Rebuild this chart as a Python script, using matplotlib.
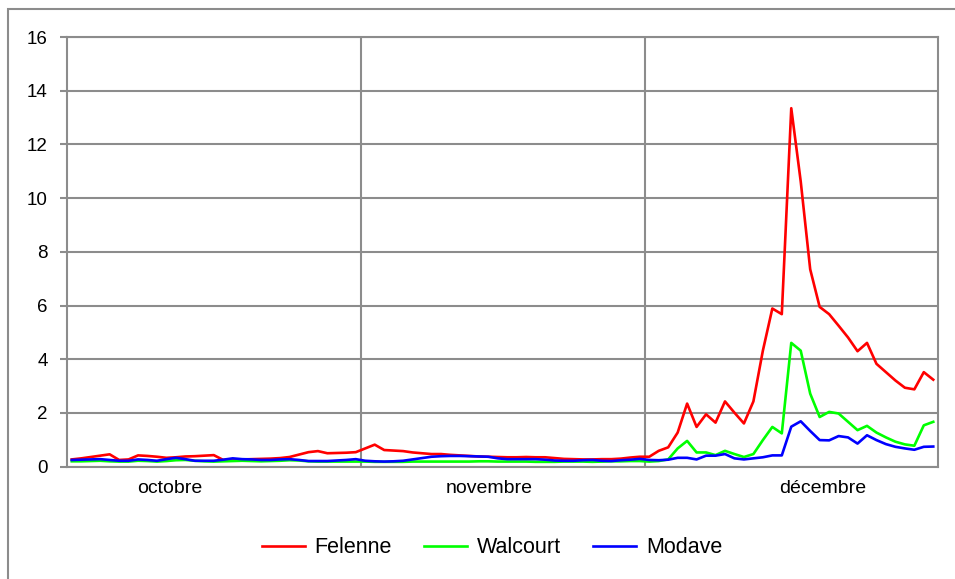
import numpy as np
import matplotlib
matplotlib.use('Agg')
import matplotlib.pyplot as plt
from matplotlib.patches import Rectangle

plt.rcParams['font.family'] = ['Liberation Sans', 'DejaVu Sans']

# daily values, 1 Oct -> 31 Dec
felenne = [0.27, 0.31, 0.36, 0.41, 0.46, 0.25, 0.27, 0.42, 0.40, 0.37, 0.33, 0.35, 0.38, 0.39, 0.41, 0.43,
           0.25, 0.27, 0.27, 0.28, 0.29, 0.30, 0.32, 0.36, 0.45, 0.54, 0.58, 0.50, 0.51, 0.52, 0.54,
           0.68, 0.82, 0.62, 0.60, 0.58, 0.53, 0.50, 0.47, 0.47, 0.44, 0.42, 0.40, 0.38, 0.37, 0.36,
           0.35, 0.35, 0.36, 0.35, 0.35, 0.32, 0.29, 0.28, 0.27, 0.27, 0.28, 0.28, 0.30, 0.34, 0.37,
           0.37, 0.59, 0.72, 1.27, 2.35, 1.48, 1.95, 1.64, 2.43, 2.01, 1.61, 2.43, 4.32, 5.89, 5.68,
           13.35, 10.62, 7.35, 5.95, 5.68, 5.25, 4.81, 4.30, 4.61, 3.83, 3.52, 3.21, 2.94, 2.88, 3.52, 3.24]
walcourt = [0.20, 0.20, 0.21, 0.22, 0.20, 0.19, 0.19, 0.22, 0.21, 0.19, 0.21, 0.24, 0.25, 0.22, 0.20, 0.19,
            0.20, 0.21, 0.22, 0.21, 0.20, 0.21, 0.22, 0.24, 0.23, 0.20, 0.19, 0.19, 0.19, 0.19, 0.19,
            0.19, 0.18, 0.18, 0.18, 0.18, 0.19, 0.19, 0.19, 0.19, 0.19, 0.19, 0.19, 0.20, 0.20, 0.19,
            0.19, 0.19, 0.19, 0.18, 0.18, 0.18, 0.19, 0.19, 0.19, 0.18, 0.19, 0.20, 0.20, 0.21, 0.21,
            0.19, 0.21, 0.27, 0.68, 0.96, 0.53, 0.53, 0.43, 0.59, 0.47, 0.36, 0.47, 0.99, 1.48, 1.24,
            4.61, 4.32, 2.72, 1.85, 2.04, 1.98, 1.67, 1.36, 1.52, 1.27, 1.09, 0.93, 0.83, 0.78, 1.54, 1.67]
modave = [0.25, 0.26, 0.27, 0.28, 0.25, 0.22, 0.22, 0.27, 0.25, 0.22, 0.28, 0.33, 0.28, 0.22, 0.22, 0.22,
          0.26, 0.31, 0.28, 0.27, 0.25, 0.25, 0.27, 0.28, 0.25, 0.21, 0.21, 0.21, 0.23, 0.25, 0.28,
          0.22, 0.20, 0.19, 0.20, 0.22, 0.27, 0.32, 0.37, 0.39, 0.40, 0.40, 0.39, 0.38, 0.37, 0.31,
          0.28, 0.28, 0.28, 0.28, 0.26, 0.23, 0.22, 0.22, 0.24, 0.25, 0.22, 0.21, 0.24, 0.26, 0.29,
          0.25, 0.24, 0.26, 0.33, 0.33, 0.27, 0.41, 0.41, 0.47, 0.31, 0.27, 0.31, 0.35, 0.42, 0.42,
          1.49, 1.69, 1.33, 0.99, 0.98, 1.14, 1.09, 0.86, 1.17, 0.99, 0.84, 0.74, 0.68, 0.63, 0.74, 0.75]

mois = ['octobre', 'novembre', 'décembre']
jours_mois = [31, 30, 31]
pos_mois = [10.4, 44.1, 79.3]   # where the month labels sit

grille = '#8c8c8c'

fig = plt.figure(figsize=(9.55, 5.79), dpi=100)
ax = fig.add_axes([0.0702, 0.194, 0.912, 0.742])

x = np.arange(len(felenne))
ax.plot(x, felenne, color='#ff0000', lw=1.9, label='Felenne')
ax.plot(x, walcourt, color='#00ff00', lw=1.9, label='Walcourt')
ax.plot(x, modave, color='#0000ff', lw=1.9, label='Modave')

ax.set_xlim(-0.5, len(felenne) - 0.5)
ax.set_ylim(0, 16)
ax.set_yticks(np.arange(0, 17, 2))
ax.yaxis.grid(True, color=grille, lw=1.5)
ax.set_axisbelow(True)

# separators between months
bornes = np.cumsum(jours_mois)[:-1] - 0.5
for b in bornes:
    ax.axvline(b, color=grille, lw=1.5, zorder=0)

ax.set_xticks([])
for m, p in zip(mois, pos_mois):
    ax.text(p, -0.8, m, ha='center', va='center', fontsize=14)

ax.tick_params(axis='y', length=5, width=1.5, color=grille, labelsize=13.5, pad=9)
for s in ax.spines.values():
    s.set_color(grille)
    s.set_linewidth(1.5)

fig.legend(loc='center', bbox_to_anchor=(492 / 955, 0.054), ncol=3, frameon=False,
           fontsize=15.5, handlelength=2.0, columnspacing=1.5, handletextpad=0.45)

# outer chart frame (only top and left edges visible)
fig.patches.append(Rectangle((8 / 955, -0.1), 1.2, 1.1 - 9 / 579, transform=fig.transFigure,
                             fill=False, edgecolor=grille, lw=1.5))

fig.savefig('out.png', dpi=100)
